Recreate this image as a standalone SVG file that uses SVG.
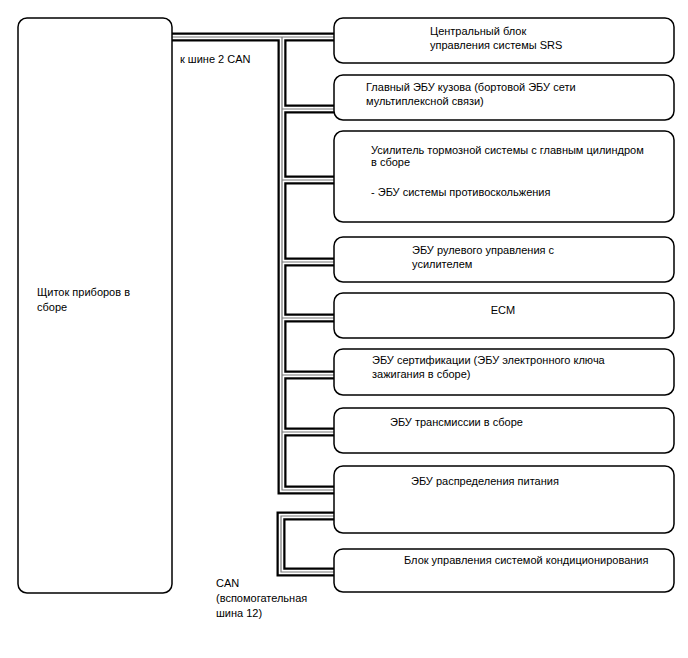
<svg xmlns="http://www.w3.org/2000/svg" width="688" height="658" viewBox="0 0 688 658">
<style>
.box{fill:#fff;stroke:#000;stroke-width:1.5}
.t{font-family:"Liberation Sans",Arial,sans-serif;font-size:11px;fill:#000}
.c1{fill:none;stroke:#000;stroke-width:9}
.c2{fill:none;stroke:#fff;stroke-width:4.5}
.c3{fill:none;stroke:#777;stroke-width:1.2}
</style>
<g id="connectors">
<path id="bus" class="c1" d="M172,37 H334 M282,37 V490 H334 M282,109 H334 M282,180 H334 M282,262 H334 M282,318 H334 M282,375 H334 M282,432 H334 M334,516 H281 V572 H334"/>
<path class="c2" d="M172,37 H334 M282,37 V490 H334 M282,109 H334 M282,180 H334 M282,262 H334 M282,318 H334 M282,375 H334 M282,432 H334 M334,516 H281 V572 H334"/>
<path class="c3" d="M172,37 H334 M282,37 V490 H334 M282,109 H334 M282,180 H334 M282,262 H334 M282,318 H334 M282,375 H334 M282,432 H334 M334,516 H281 V572 H334"/>
</g>
<g id="cluster"><rect class="box" x="18" y="18" width="154" height="575" rx="9"/><text class="t" x="37" y="296">Щиток приборов в</text><text class="t" x="37" y="311">сборе</text></g>
<g id="srs"><rect class="box" x="334" y="18" width="340" height="45" rx="9"/><text class="t" x="430" y="35">Центральный блок</text><text class="t" x="430" y="49">управления системы SRS</text></g>
<g id="body"><rect class="box" x="334" y="75" width="340" height="45" rx="9"/><text class="t" x="366" y="91">Главный ЭБУ кузова (бортовой ЭБУ сети</text><text class="t" x="366" y="105">мультиплексной связи)</text></g>
<g id="brake"><rect class="box" x="334" y="131" width="340" height="91" rx="9"/><text class="t" x="371" y="154">Усилитель тормозной системы с главным цилиндром</text><text class="t" x="371" y="166">в сборе</text><text class="t" x="371" y="196">- ЭБУ системы противоскольжения</text></g>
<g id="eps"><rect class="box" x="334" y="237" width="340" height="45" rx="9"/><text class="t" x="412" y="254">ЭБУ рулевого управления с</text><text class="t" x="412" y="268">усилителем</text></g>
<g id="ecm"><rect class="box" x="334" y="293" width="340" height="45" rx="9"/><text class="t" x="503" y="314" text-anchor="middle">ECM</text></g>
<g id="cert"><rect class="box" x="334" y="349" width="340" height="46" rx="9"/><text class="t" x="372" y="364">ЭБУ сертификации (ЭБУ электронного ключа</text><text class="t" x="372" y="378">зажигания в сборе)</text></g>
<g id="trans"><rect class="box" x="334" y="408" width="340" height="45" rx="9"/><text class="t" x="390" y="426">ЭБУ трансмиссии в сборе</text></g>
<g id="power"><rect class="box" x="334" y="466" width="340" height="67" rx="9"/><text class="t" x="411" y="485">ЭБУ распределения питания</text></g>
<g id="ac"><rect class="box" x="334" y="549" width="340" height="43" rx="9"/><text class="t" x="404" y="564">Блок управления системой кондиционирования</text></g>
<g id="labels"><text class="t" x="180" y="63">к шине 2 CAN</text><text class="t" x="216" y="587">CAN</text><text class="t" x="216" y="602">(вспомогательная</text><text class="t" x="216" y="617">шина 12)</text></g>
</svg>
